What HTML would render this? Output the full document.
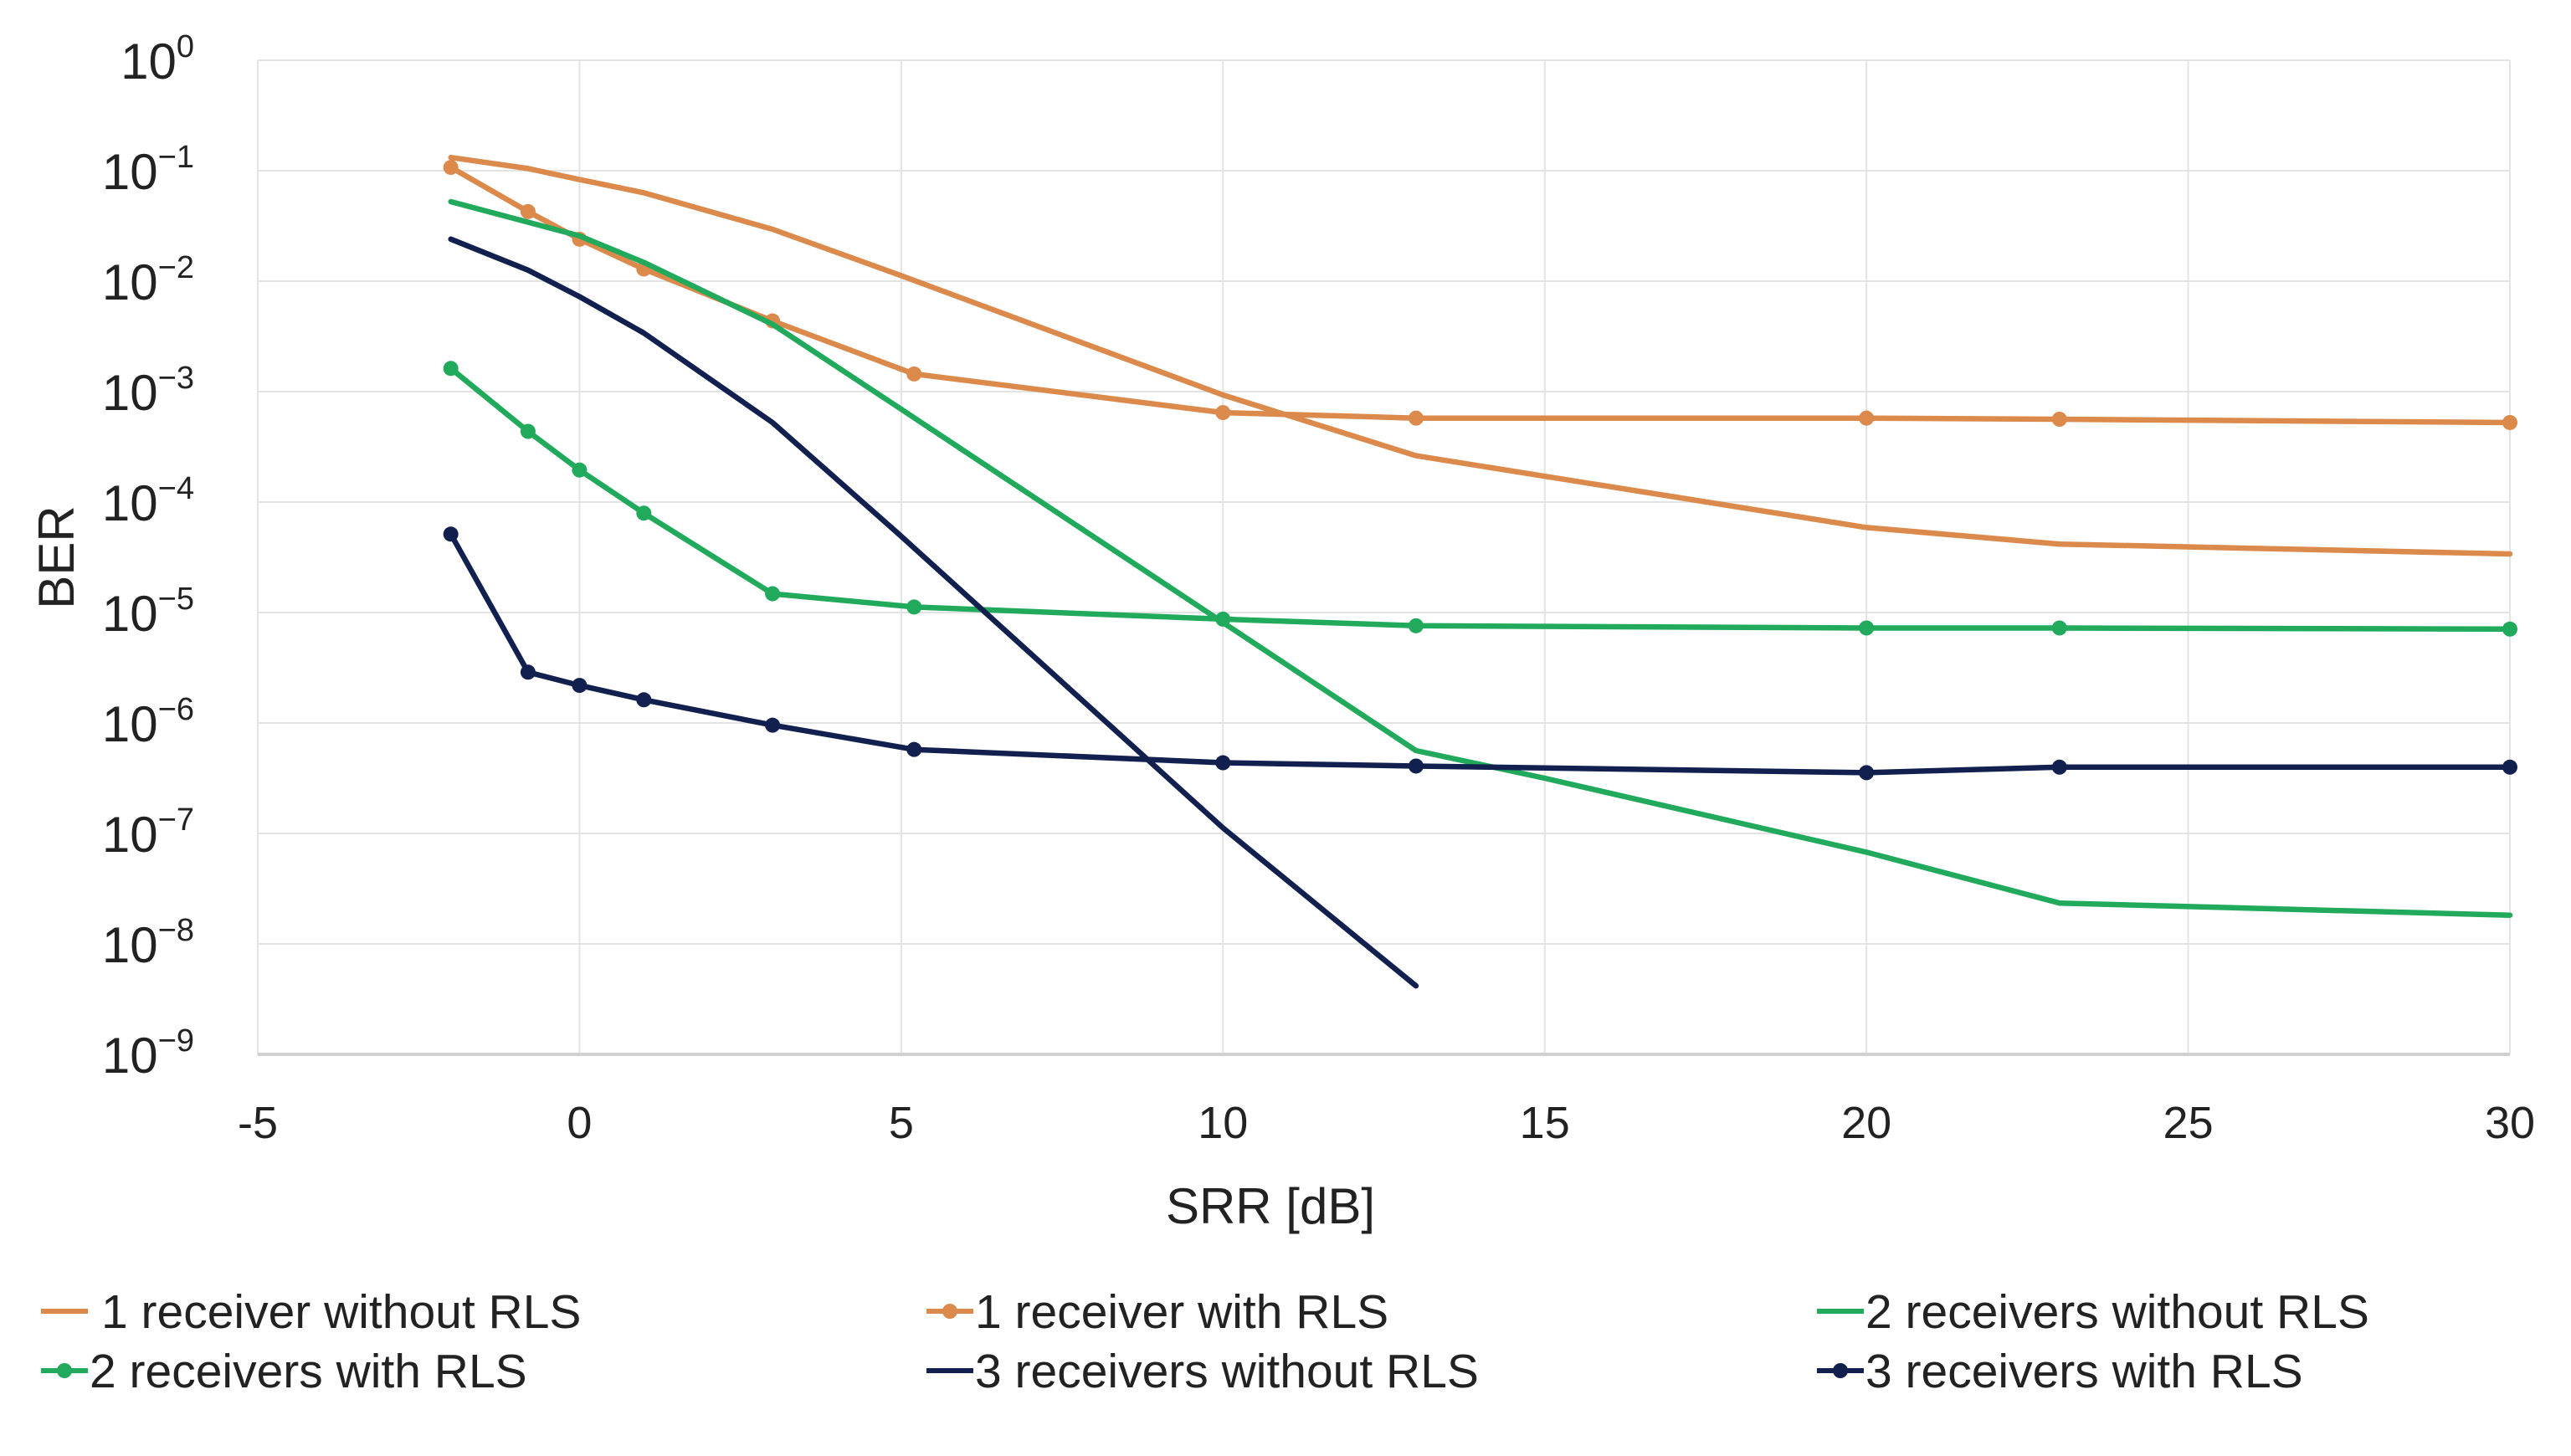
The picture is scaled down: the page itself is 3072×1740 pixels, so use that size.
<!DOCTYPE html>
<html><head><meta charset="utf-8"><style>
html,body{margin:0;padding:0;background:#fff;}
svg{display:block;font-family:"Liberation Sans",sans-serif;}
</style></head><body>
<svg id="chart" width="3072" height="1740" viewBox="0 0 3072 1740" xmlns="http://www.w3.org/2000/svg">
<g id="grid"></g>
<g id="axes"></g>
<g id="series"></g>
<text x="1518" y="1462" font-size="60" text-anchor="middle" fill="#222">SRR [dB]</text>
<text x="0" y="0" font-size="60" text-anchor="middle" fill="#222" transform="translate(88,666) rotate(-90)">BER</text>
<g id="legend"></g>
</svg>
<script>
const xTicks=[-5,0,5,10,15,20,25,30];
const yExps=[0,-1,-2,-3,-4,-5,-6,-7,-8,-9];
const names=["1 receiver without RLS","1 receiver with RLS","2 receivers without RLS","2 receivers with RLS","3 receivers without RLS","3 receivers with RLS"];
const colors=["#DB8A4C","#DB8A4C","#22AA5C","#22AA5C","#12204F","#12204F"];
const markers=[false,true,false,true,false,true];
const s1x=[-2,-0.8,0,1,3,5,10,13,20,23,30];
const s1y=[-0.88,-0.98,-1.08,-1.2,-1.53,-1.95,-3.03,-3.58,-4.23,-4.38,-4.47];
const s2x=[-2,-0.8,0,1,3,5.2,10,13,20,23,30];
const s2y=[-0.97,-1.37,-1.62,-1.89,-2.36,-2.84,-3.19,-3.24,-3.24,-3.25,-3.28];
const s3x=[-2,0,1,3,5,10,13,15,20,23,30];
const s3y=[-1.28,-1.59,-1.83,-2.39,-3.16,-5.09,-6.25,-6.5,-7.17,-7.63,-7.74];
const s4x=[-2,-0.8,0,1,3,5.2,10,13,20,23,30];
const s4y=[-2.79,-3.36,-3.71,-4.1,-4.83,-4.95,-5.06,-5.12,-5.14,-5.14,-5.15];
const s5x=[-2,-0.8,0,1,3,5,10,13];
const s5y=[-1.62,-1.9,-2.14,-2.47,-3.28,-4.31,-6.95,-8.38];
const s6x=[-2,-0.8,0,1,3,5.2,10,13,20,23,30];
const s6y=[-4.29,-5.54,-5.66,-5.79,-6.02,-6.24,-6.36,-6.39,-6.45,-6.4,-6.4];
const SX=[s1x,s2x,s3x,s4x,s5x,s6x], SY=[s1y,s2y,s3y,s4y,s5y,s6y];
const L=308,R=2999,T=72,B=1260;
function xs(v){return L+(v+5)/35*(R-L);}
function ys(e){return T+(0-e)/9*(B-T);}
const NS="http://www.w3.org/2000/svg";
function mk(tag,attrs,parent){const e=document.createElementNS(NS,tag);for(const k in attrs)e.setAttribute(k,attrs[k]);parent.appendChild(e);return e;}
const grid=document.getElementById('grid'),axes=document.getElementById('axes'),ser=document.getElementById('series'),leg=document.getElementById('legend');
xTicks.forEach(t=>{
  const l=mk('line',{x1:xs(t),x2:xs(t),y1:T,y2:B,stroke:'#e3e3e3','stroke-width':2},grid);
  
  
  const tx=mk('text',{x:xs(t),y:1360,'font-size':54,'text-anchor':'middle',fill:'#222'},axes);
  tx.textContent=String(t);
  
  
});
yExps.forEach(e=>{
  const l=mk('line',{x1:L,x2:R,y1:ys(e),y2:ys(e),stroke:e===-9?'#d0d0d0':'#e3e3e3','stroke-width':e===-9?4:2},grid);
  
  
  const tx=mk('text',{x:232,y:ys(e)+22,'font-size':60,'text-anchor':'end',fill:'#222'},axes);
  
  
  const a=mk('tspan',{},tx);a.textContent='10';
  const b=mk('tspan',{dy:-26,'font-size':38},tx);b.textContent=e===0?'0':'\u2212'+(-e);
});
for(let i=0;i<6;i++){
  const pts=SX[i].map((x,j)=>xs(x).toFixed(1)+','+ys(SY[i][j]).toFixed(1)).join(' ');
  const p=mk('polyline',{points:pts,fill:'none',stroke:colors[i],'stroke-width':6.5,'stroke-linejoin':'round','stroke-linecap':'round'},ser);
  
  
  if(markers[i]){SX[i].forEach((x,j)=>{
    const c=mk('circle',{cx:xs(x),cy:ys(SY[i][j]),r:9,fill:colors[i]},ser);
    
    
  });}
}
const lx=[49,1107,2171];const ly=[1567,1638];
for(let i=0;i<6;i++){
  const x=lx[i%3],y=ly[Math.floor(i/3)];
  const g=mk('g',{},leg);
  
  
  mk('line',{x1:x,x2:x+56,y1:y,y2:y,stroke:colors[i],'stroke-width':6},g);
  if(markers[i])mk('circle',{cx:x+28,cy:y,r:9,fill:colors[i]},g);
  const t=mk('text',{x:x+(i===0?72:58),y:y+20,'font-size':57,fill:'#222'},g);
  t.textContent=names[i];
}
</script>
</body></html>
